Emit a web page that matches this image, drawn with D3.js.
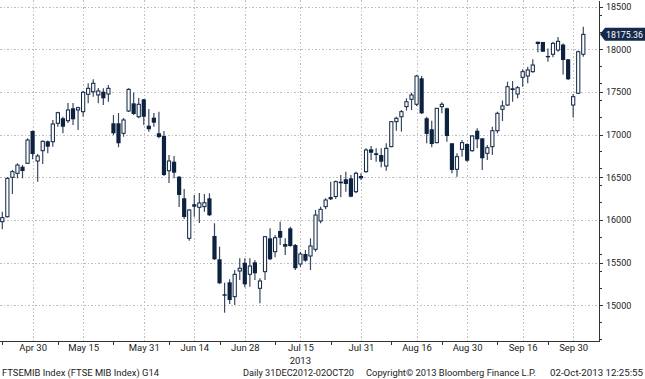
<!DOCTYPE html>
<html lang="en">
<head>
<meta charset="UTF-8">
<title>FTSEMIB Index</title>
<script src="https://d3js.org/d3.v7.min.js"></script>
<style>
  body { margin: 0; background: #fff; }
  svg text { font-family: Roboto, "DejaVu Sans", sans-serif; font-size: 9.5px; fill: #222; }
  .grid line { stroke: #bdbdbd; stroke-dasharray: 1.5,2; shape-rendering: crispEdges; }
  .axis path, .axis line { stroke: #333; shape-rendering: crispEdges; }
</style>
</head>
<body>
<svg id="chart" width="645" height="379"></svg>
<script>
// trading days Apr 22 - Oct 2 2013, Borsa Italiana closed these days
const holidays = ["2013-05-01", "2013-08-15"];

const opens = [
  15980,16038,16500,16547,16624,16664,17043,16691,16812,16922,
  16917,17133,17192,17163,17309,17289,17269,17473,17503,17465,
  17503,17476,17133,17133,17016,17277,17367,17210,17414,17105,
  17199,17016,16984,16577,16683,16507,16254,15785,16184,16148,
  16156,16254,15812,15539,15129,15269,15101,15402,15499,15363,
  15504,15199,15394,15785,15628,15871,15718,15902,15707,15484,
  15601,15578,15656,15988,16156,16269,16275,16449,16477,16488,
  16331,16515,16566,16828,16781,16761,16632,16859,17152,17210,
  17328,17414,17356,17660,17192,17063,16906,17328,17309,16899,
  16594,16828,16890,16812,17046,16957,16781,16859,17046,17297,
  17347,17543,17476,17672,17687,17738,18089,18086,17922,17942,
  17992,18056,17883,17347,17485,17942];

const highs = [
  16097,16500,16586,16664,16644,16957,17050,16773,16930,16930,
  17172,17269,17210,17371,17371,17328,17515,17602,17649,17547,
  17543,17582,17230,17254,17195,17543,17492,17429,17418,17301,
  17254,17269,17043,16761,16750,16515,16363,16125,16293,16316,
  16304,16313,15961,15687,15265,15305,15414,15551,15551,15551,
  15531,15316,15812,15902,15824,15980,15785,15921,15718,15628,
  15648,15785,16117,16156,16254,16449,16463,16527,16566,16527,
  16566,16547,16840,16867,16840,16840,16899,17160,17210,17289,
  17426,17492,17699,17687,17210,17163,17309,17379,17316,16899,
  16781,16937,16899,16996,17074,16957,16879,17093,17269,17400,
  17621,17629,17570,17766,17796,17883,18089,18086,18010,18089,
  18144,18068,17887,17476,17984,18265];

const lows = [
  15891,16030,16304,16488,16488,16656,16711,16449,16656,16781,
  16859,17093,17016,17136,17113,17054,17210,17367,17445,17367,
  17347,17386,16996,16852,16976,17265,17230,17192,17113,17035,
  17093,16957,16515,16433,16488,16152,16011,15757,16038,15964,
  16097,16046,15531,15250,14913,15015,15003,15296,15211,15218,
  15296,15023,15296,15531,15562,15707,15589,15687,15414,15452,
  15511,15414,15628,15961,16125,16234,16246,16266,16331,16266,
  16313,16468,16554,16703,16683,16617,16577,16852,17046,17035,
  17281,17289,17336,17242,16899,16852,16899,17250,16917,16547,
  16507,16742,16683,16800,16840,16586,16703,16761,17016,17160,
  17336,17386,17426,17562,17602,17726,17965,17969,17855,17906,
  17972,17705,17640,17201,17476,17913];

const closes = [
  16027,16488,16566,16644,16574,16937,16773,16750,16922,16859,
  17125,17257,17093,17289,17180,17316,17496,17543,17602,17512,
  17426,17543,17016,16899,17172,17531,17242,17356,17210,17063,
  17140,16972,16527,16691,16554,16293,16035,16117,16156,16199,
  16202,16055,15539,15258,15112,15062,15363,15434,15246,15460,
  15375,15285,15804,15539,15792,15792,15687,15695,15434,15601,
  15523,15695,16058,16125,16234,16242,16449,16430,16422,16273,
  16547,16488,16820,16788,16761,16683,16840,17152,17192,17269,
  17386,17465,17687,17250,17008,16890,17309,17356,16984,16586,
  16742,16906,16695,16984,16945,16723,16847,17046,17250,17336,
  17562,17523,17550,17738,17758,17816,18062,17972,17906,18070,
  18094,17875,17649,17445,17972,18175.36];

const labelDates = ["2013-04-30","2013-05-15","2013-05-31","2013-06-14","2013-06-28","2013-07-15",
                    "2013-07-31","2013-08-16","2013-08-30","2013-09-16","2013-09-30"];
const tickDates = ["2013-04-22","2013-05-08","2013-05-23","2013-06-07","2013-06-21","2013-07-08",
                   "2013-07-23","2013-08-08","2013-08-23","2013-09-09","2013-09-23"];
const yTicks = [15000,15500,16000,16500,17000,17500,18000,18500];
const lastPrice = 18175.36;

const fmt = d3.timeFormat("%Y-%m-%d");
const parse = d3.timeParse("%Y-%m-%d");
const days = d3.timeDay.range(new Date(2013, 3, 22), new Date(2013, 9, 3))
  .filter(d => d.getDay() % 6 !== 0 && !holidays.includes(fmt(d)))
  .map(fmt);

const data = days.map((d, i) => ({ date: d, o: opens[i], h: highs[i], l: lows[i], c: closes[i] }));

const svg = d3.select("#chart");
const plotR = 599, plotB = 341.3;

const x = d3.scalePoint().domain(days).range([2.3, 583.3]);
const y = d3.scaleLinear().domain([14578, 18578]).range([plotB, 0]);

// grid
const grid = svg.append("g").attr("class", "grid");
grid.selectAll(".h").data(yTicks).enter().append("line")
  .attr("x1", 0).attr("x2", plotR)
  .attr("y1", d => Math.round(y(d)) + 0.5).attr("y2", d => Math.round(y(d)) + 0.5);
grid.selectAll(".v").data(labelDates).enter().append("line")
  .attr("x1", d => Math.round(x(d)) + 0.5).attr("x2", d => Math.round(x(d)) + 0.5)
  .attr("y1", 0).attr("y2", plotB);

// candles
const dark = "#0c2240";
const c = svg.append("g").selectAll("g").data(data).enter().append("g");
c.append("line")
  .attr("x1", d => x(d.date)).attr("x2", d => x(d.date))
  .attr("y1", d => y(d.h)).attr("y2", d => y(d.l))
  .attr("stroke", "#3a4860").attr("stroke-width", 1.2);
c.append("rect")
  .attr("x", d => x(d.date) - (d.c >= d.o ? 1.6 : 2.1))
  .attr("width", d => d.c >= d.o ? 3.2 : 4.2)
  .attr("y", d => y(Math.max(d.o, d.c)))
  .attr("height", d => Math.max(1.2, Math.abs(y(d.o) - y(d.c))))
  .attr("fill", d => d.c >= d.o ? "#fff" : dark)
  .attr("stroke", d => d.c >= d.o ? dark : "none")
  .attr("stroke-width", 1);

// right axis
const yAxis = svg.append("g").attr("class", "axis")
  .attr("transform", `translate(${plotR},0)`)
  .call(d3.axisRight(y).tickValues(yTicks).tickSize(4).tickSizeOuter(0).tickPadding(3).tickFormat(d3.format("d")));
yAxis.selectAll("text").attr("font-size", null).style("font-size", "9px");
yAxis.append("g").selectAll("line").data(y.ticks(16).filter(v => !yTicks.includes(v))).enter()
  .append("line").attr("x1", 0).attr("x2", 3)
  .attr("y1", d => y(d)).attr("y2", d => y(d));

// bottom axis
const xAxis = svg.append("g").attr("class", "axis")
  .attr("transform", `translate(0,${plotB})`)
  .call(d3.axisBottom(x).tickValues(labelDates).tickSize(0).tickPadding(3)
    .tickFormat(d => d3.timeFormat("%b %d")(parse(d))));
xAxis.select(".domain").attr("d", `M0,0.5H${plotR}`);
xAxis.selectAll("text").attr("font-size", null);
xAxis.append("g").selectAll("line").data(tickDates).enter().append("line")
  .attr("x1", d => Math.round(x(d)) + 0.5).attr("x2", d => Math.round(x(d)) + 0.5)
  .attr("y1", 0).attr("y2", 4);

svg.append("text").attr("x", x("2013-07-15")).attr("y", 364)
  .attr("text-anchor", "middle").text("2013");

// last price tag
const ly = y(lastPrice);
svg.append("path")
  .attr("d", `M600,${ly} L605,${ly - 6.5} H645 V${ly + 6.5} H605 Z`)
  .attr("fill", "#15294a");
svg.append("text").attr("x", 606).attr("y", ly).attr("dy", "0.35em")
  .attr("textLength", 37).attr("lengthAdjust", "spacingAndGlyphs")
  .style("fill", "#fff").style("font-size", "9.5px").text(d3.format(".2f")(lastPrice));

// footer
const foot = svg.append("g").attr("transform", "translate(0,376)");
const fit = (xx, len, t) => foot.append("text").attr("x", xx)
  .attr("textLength", len).attr("lengthAdjust", "spacingAndGlyphs").text(t);
fit(2, 157, "FTSEMIB Index (FTSE MIB Index) G14");
fit(243, 111, "Daily 31DEC2012-02OCT20");
fit(366, 170, "Copyright\u00A9 2013 Bloomberg Finance L.P.");
fit(550, 93, "02-Oct-2013 12:25:55");
</script>
</body>
</html>
